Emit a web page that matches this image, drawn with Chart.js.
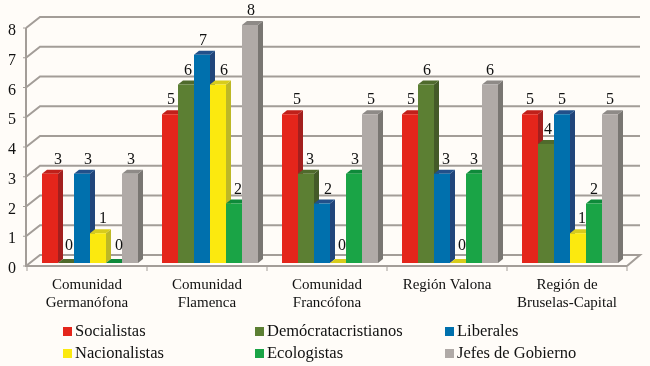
<!DOCTYPE html>
<html>
<head>
<meta charset="utf-8">
<script src="https://cdn.jsdelivr.net/npm/chart.js@4"></script>
<style>
  html, body { margin: 0; padding: 0; background: #fffcf8; }
  #wrap { position: relative; width: 650px; height: 366px; overflow: hidden; }
  #legend { position: absolute; left: 0; top: 0; font: 16.5px "Liberation Serif", serif; color: #111; }
  .item { position: absolute; white-space: nowrap; line-height: 18px; }
  .item i { position: absolute; left: -12px; top: 5px; width: 9px; height: 9px; }
</style>
</head>
<body>
<div id="wrap">
  <canvas id="chart" width="650" height="366"></canvas>
  <div id="legend"></div>
</div>
<script>
// datos
const categories = [
  ['Comunidad', 'Germanófona'],
  ['Comunidad', 'Flamenca'],
  ['Comunidad', 'Francófona'],
  'Región Valona',
  ['Región de', 'Bruselas-Capital']
];
const seriesNames = ['Socialistas', 'Demócratacristianos', 'Liberales', 'Nacionalistas', 'Ecologistas', 'Jefes de Gobierno'];
const socialistas = [3, 5, 5, 5, 5];
const democratacristianos = [0, 6, 3, 6, 4];
const liberales = [3, 7, 2, 3, 5];
const nacionalistas = [1, 6, 0, 0, 1];
const ecologistas = [0, 2, 3, 3, 2];
const jefes = [3, 8, 5, 6, 5];
const yTicks = [0, 1, 2, 3, 4, 5, 6, 7, 8];

const frontColors = ['#e4251b', '#5c7f33', '#0070ad', '#fbe90f', '#1aa446', '#b0aaa7'];
const sideColors = ['#a31f1e', '#445a28', '#21457a', '#bdb826', '#0c7a33', '#797672'];
const topColors = ['#c0201a', '#4f6a2c', '#22508a', '#d8cc1c', '#0f8a3a', '#8e8a87'];
const seriesValues = [socialistas, democratacristianos, liberales, nacionalistas, ecologistas, jefes];

// en el original las etiquetas estan colocadas a mano: desplazamiento en px por serie y grupo
const labelNudge = [
  [8, 1, 7, 1, 0],
  [3, 2, 4, 1, 2],
  [6, 1, 6, 4, 0],
  [5, 6, 4, 4, 4],
  [5, 4, 1, 0, 0],
  [1, 1, 1, 0, 0]
];

const gridColor = '#a39d98';
const depthX = 5, depthY = 4;   // profundidad de las barras
const wallX = 13, wallY = 11;   // profundidad del fondo

// fondo, suelo y ejes en falso 3D
const wallPlugin = {
  id: 'wall',
  beforeDatasetsDraw(chart) {
    const { ctx, scales: { x, y } } = chart;
    const left = x.left - 3, right = x.right - 3;
    ctx.save();
    ctx.strokeStyle = gridColor;
    ctx.lineWidth = 2;
    yTicks.forEach(v => {
      const py = y.getPixelForValue(v) + 3;
      ctx.beginPath();
      ctx.moveTo(left - 1, py);
      ctx.lineTo(left + wallX, py - wallY);
      ctx.lineTo(right + wallX, py - wallY);
      if (v === 0) ctx.lineTo(right, py);
      ctx.stroke();
    });
    // eje y y suelo
    const p0 = y.getPixelForValue(0) + 3, p8 = y.getPixelForValue(8) + 3;
    ctx.beginPath();
    ctx.moveTo(left - 1, p8);
    ctx.lineTo(left - 1, p0);
    ctx.lineTo(right, p0);
    ctx.stroke();
    ctx.lineWidth = 1;
    for (let i = 0; i <= categories.length; i++) {
      const tx = left + (right - left) * i / categories.length;
      ctx.beginPath();
      ctx.moveTo(tx, p0);
      ctx.lineTo(tx, p0 + 5);
      ctx.stroke();
    }
    yTicks.forEach(v => {
      const py = y.getPixelForValue(v) + 3;
      ctx.beginPath();
      ctx.moveTo(left - 4, py);
      ctx.lineTo(left, py);
      ctx.stroke();
    });
    ctx.restore();
  }
};

// Chart.js pinta de la ultima serie a la primera; aqui hace falta al reves
// para que cada barra tape la cara lateral de la anterior
const barsPlugin = {
  id: 'bars',
  beforeDatasetDraw() {
    return false;
  },
  afterDatasetsDraw(chart) {
    const { ctx } = chart;
    seriesNames.forEach((name, i) => {
      chart.getDatasetMeta(i).data.forEach(bar => {
        const l = bar.x - bar.width / 2, r = bar.x + bar.width / 2;
        ctx.save();
        ctx.fillStyle = sideColors[i];
        ctx.beginPath();
        ctx.moveTo(r, bar.y);
        ctx.lineTo(r + depthX, bar.y - depthY);
        ctx.lineTo(r + depthX, bar.base - depthY);
        ctx.lineTo(r, bar.base);
        ctx.fill();
        ctx.fillStyle = topColors[i];
        ctx.beginPath();
        ctx.moveTo(l, bar.y);
        ctx.lineTo(l + depthX, bar.y - depthY);
        ctx.lineTo(r + depthX, bar.y - depthY);
        ctx.lineTo(r, bar.y);
        ctx.fill();
        ctx.restore();
        bar.draw(ctx);
      });
    });
    // etiquetas de valor
    ctx.save();
    ctx.font = '16px "Liberation Serif", serif';
    ctx.fillStyle = '#111';
    ctx.textAlign = 'center';
    ctx.textBaseline = 'middle';
    seriesValues.forEach((values, i) => {
      chart.getDatasetMeta(i).data.forEach((bar, j) => {
        const up = values[j] === 0 ? 17 : 14;
        ctx.fillText(values[j], bar.x + labelNudge[i][j], bar.y - up);
      });
    });
    ctx.restore();
  }
};

new Chart(document.getElementById('chart'), {
  type: 'bar',
  data: {
    labels: categories,
    datasets: seriesNames.map((name, i) => ({
      label: name,
      data: seriesValues[i],
      backgroundColor: frontColors[i],
      categoryPercentage: 0.8,
      barPercentage: 1
    }))
  },
  options: {
    responsive: false,
    animation: false,
    layout: { padding: { top: 25, right: 20 } },
    plugins: { legend: { display: false }, tooltip: { enabled: false } },
    scales: {
      x: {
        grid: { display: false },
        border: { display: false },
        ticks: {
          autoSkip: false,
          maxRotation: 0,
          padding: 5,
          labelOffset: -3,
          color: '#111',
          font: { family: '"Liberation Serif", serif', size: 15, lineHeight: 1.2 }
        },
        afterFit(scale) { scale.height = 103; }
      },
      y: {
        min: 0,
        max: 8,
        grid: { display: false },
        border: { display: false },
        afterBuildTicks(scale) { scale.ticks = yTicks.map(v => ({ value: v })); },
        ticks: {
          padding: 6,
          labelOffset: 6,
          color: '#111',
          font: { family: '"Liberation Serif", serif', size: 16 }
        },
        afterFit(scale) { scale.width = 30; }
      }
    }
  },
  plugins: [wallPlugin, barsPlugin]
});

// leyenda en dos filas y tres columnas
const legendCols = [75, 267, 457];
const legendRows = [322, 344];
const legend = document.getElementById('legend');
seriesNames.forEach((name, i) => {
  const el = document.createElement('div');
  el.className = 'item';
  el.style.left = legendCols[i % 3] + 'px';
  el.style.top = legendRows[Math.floor(i / 3)] + 'px';
  el.innerHTML = '<i style="background:' + frontColors[i] + '"></i>' + name;
  legend.appendChild(el);
});
</script>
</body>
</html>
